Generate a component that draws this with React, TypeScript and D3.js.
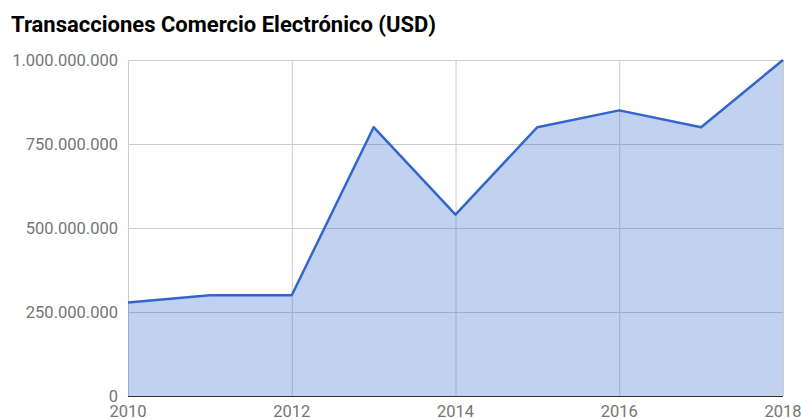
import React, { useEffect, useRef } from 'react';
import * as d3 from 'd3';

const years = [2010, 2011, 2012, 2013, 2014, 2015, 2016, 2017, 2018];
const transactions = [278000000, 300000000, 300000000, 800000000, 540000000, 800000000, 850000000, 800000000, 1000000000];
const yTicks = [0, 250000000, 500000000, 750000000, 1000000000];
const xTicks = [2010, 2012, 2014, 2016, 2018];

const App: React.FC = () => {
  const svgRef = useRef<SVGSVGElement>(null);

  useEffect(() => {
    const svg = d3.select(svgRef.current);
    svg.selectAll('*').remove();

    const width = 801;
    const height = 419;
    const margin = { top: 60, right: 18, bottom: 23, left: 128 };
    const innerW = width - margin.left - margin.right;
    const innerH = height - margin.top - margin.bottom;

    svg.attr('width', width).attr('height', height).style('background', '#fff');

    const x = d3.scaleLinear().domain([2010, 2018]).range([0, innerW]);
    const y = d3.scaleLinear().domain([0, 1000000000]).range([innerH, 0]);

    const g = svg.append('g').attr('transform', `translate(${margin.left},${margin.top})`);

    // grid
    g.selectAll('.hgrid')
      .data(yTicks)
      .enter()
      .append('line')
      .attr('x1', 0)
      .attr('x2', innerW)
      .attr('y1', d => y(d) + 0.5)
      .attr('y2', d => y(d) + 0.5)
      .attr('stroke', '#cccccc')
      .attr('stroke-width', 1);

    g.selectAll('.vgrid')
      .data(xTicks)
      .enter()
      .append('line')
      .attr('x1', d => x(d) + 0.5)
      .attr('x2', d => x(d) + 0.5)
      .attr('y1', 0)
      .attr('y2', innerH)
      .attr('stroke', '#cccccc')
      .attr('stroke-width', 1);

    const data = years.map((yr, i) => ({ yr, v: transactions[i] }));

    const area = d3.area<{ yr: number; v: number }>()
      .x(d => x(d.yr))
      .y0(innerH)
      .y1(d => y(d.v));

    g.append('path')
      .datum(data)
      .attr('d', area)
      .attr('fill', '#3366cc')
      .attr('fill-opacity', 0.3);

    const line = d3.line<{ yr: number; v: number }>()
      .x(d => x(d.yr))
      .y(d => y(d.v));

    g.append('path')
      .datum(data)
      .attr('d', line)
      .attr('fill', 'none')
      .attr('stroke', '#3366cc')
      .attr('stroke-width', 2.5)
      .attr('stroke-linejoin', 'round');

    // baseline
    g.append('line')
      .attr('x1', 0)
      .attr('x2', innerW)
      .attr('y1', innerH + 0.5)
      .attr('y2', innerH + 0.5)
      .attr('stroke', '#333333')
      .attr('stroke-width', 1);

    // y labels
    const fmt = (v: number) => v.toString().replace(/\B(?=(\d{3})+(?!\d))/g, '.');
    g.selectAll('.ylab')
      .data(yTicks)
      .enter()
      .append('text')
      .attr('x', -10)
      .attr('y', d => y(d) + 6)
      .attr('text-anchor', 'end')
      .style('font-family', 'Roboto, sans-serif')
      .style('font-size', '16.5px')
      .style('fill', '#757575')
      .text(d => fmt(d));

    // x labels
    g.selectAll('.xlab')
      .data(xTicks)
      .enter()
      .append('text')
      .attr('x', d => x(d))
      .attr('y', innerH + 21)
      .attr('text-anchor', 'middle')
      .style('font-family', 'Roboto, sans-serif')
      .style('font-size', '16.5px')
      .style('fill', '#757575')
      .text(d => d.toString());

    // title
    svg.append('text')
      .attr('x', 11)
      .attr('y', 32)
      .style('font-family', 'Roboto, sans-serif')
      .style('font-size', '22px')
      .style('font-weight', 'bold')
      .style('fill', '#000')
      .text('Transacciones Comercio Electrónico (USD)');
  }, []);

  return (
    <div style={{ position: 'fixed', left: 0, top: 0 }}>
      <svg ref={svgRef}></svg>
    </div>
  );
};

export default App;
